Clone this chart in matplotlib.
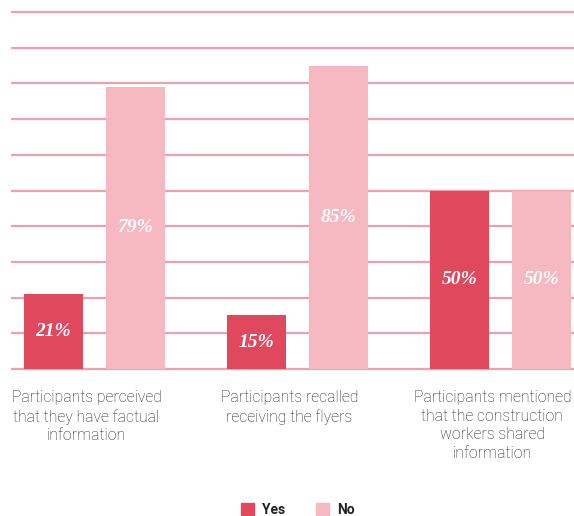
import matplotlib
matplotlib.use("Agg")
import matplotlib.pyplot as plt
from matplotlib.patches import Patch
from matplotlib.transforms import blended_transform_factory

categories = [
    "Participants perceived\nthat they have factual\ninformation",
    "Participants recalled\nreceiving the flyers",
    "Participants mentioned\nthat the construction\nworkers shared\ninformation",
]
yes_values = [21, 15, 50]
no_values = [79, 85, 50]
series_names = ["Yes", "No"]

YES_COLOR = "#E0485E"
NO_COLOR = "#F6B9C1"
GRID_COLOR = "#F0A0AC"
TEXT_COLOR = "#222222"

W, H = 574, 516
fig = plt.figure(figsize=(W / 100, H / 100), dpi=100)

# axes placement (pixels)
left_px, right_px = 11, 574
y0_px, y100_px = 369, 12
unit = (y0_px - y100_px) / 100.0
ylo, yhi = -1, 101
bottom_px = y0_px + (0 - ylo) * unit
top_px = y100_px - (yhi - 100) * unit
ax = fig.add_axes([left_px / W, 1 - bottom_px / H,
                   (right_px - left_px) / W, (bottom_px - top_px) / H])
ax.set_ylim(ylo, yhi)

group_px = 203.0
bar_w = 59 / group_px
offset = (23 / 2 + 59 / 2) / group_px
first_center_px = 94.5
xl = -(first_center_px - left_px) / group_px
xr = (right_px - first_center_px) / group_px
ax.set_xlim(xl, xr)

x = list(range(len(categories)))
for yv in range(0, 101, 10):
    ax.axhline(yv, color=GRID_COLOR, lw=1.6, zorder=0)

b1 = ax.bar([i - offset for i in x], yes_values, width=bar_w, color=YES_COLOR, zorder=2)
b2 = ax.bar([i + offset for i in x], no_values, width=bar_w, color=NO_COLOR, zorder=2)

lbl_font = dict(family="Liberation Serif", style="italic", weight="bold", size=14, color="white")
ax.bar_label(b1, labels=[f"{v}%" for v in yes_values], label_type="center", **lbl_font)
ax.bar_label(b2, labels=[f"{v}%" for v in no_values], label_type="center", **lbl_font)

for s in ax.spines.values():
    s.set_visible(False)
ax.set_xticks([])
ax.set_yticks([])

trans = blended_transform_factory(ax.transData, fig.transFigure)
for i, c in enumerate(categories):
    ax.text(i - 0.04, 1 - 390 / H, c, transform=trans, ha="center", va="top",
            family="Roboto", weight="light", size=11.3, color=TEXT_COLOR,
            linespacing=1.3)

handles = [Patch(color=YES_COLOR), Patch(color=NO_COLOR)]
fig.legend(handles, series_names, loc="center", bbox_to_anchor=(298 / W, 1 - 510 / H),
           ncol=2, frameon=False, handlelength=0.95, handleheight=0.95,
           handletextpad=0.6, columnspacing=2.2,
           prop=dict(family="Roboto", weight="bold", size=10))
for t in fig.legends[0].get_texts():
    t.set_color(TEXT_COLOR)

fig.savefig("out.png", dpi=100)
